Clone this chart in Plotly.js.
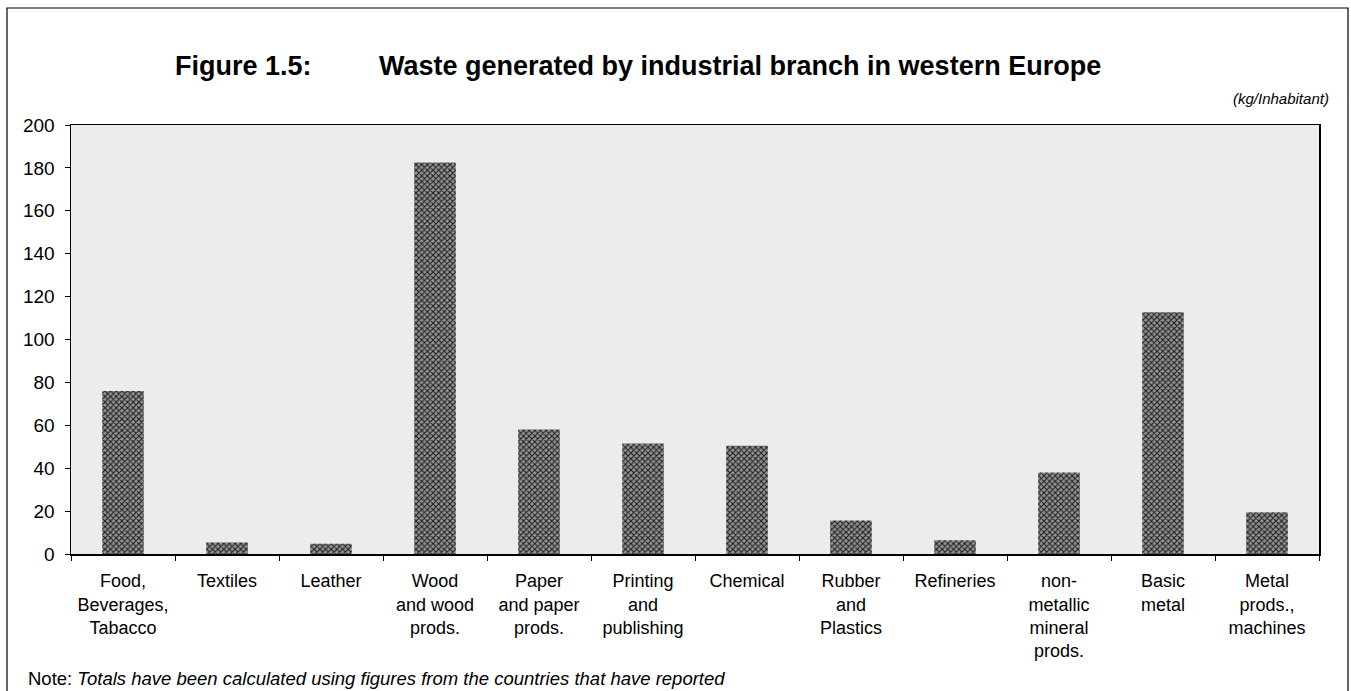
<!DOCTYPE html>
<html>
<head>
<meta charset="utf-8">
<script src="https://cdn.plot.ly/plotly-3.0.1.min.js"></script>
<style>html,body{margin:0;padding:0;background:#fff;}#chart{width:1351px;height:691px;}</style>
</head>
<body>
<div id="chart"></div>
<script>
var categories = [
  "Food,<br>Beverages,<br>Tabacco",
  "Textiles",
  "Leather",
  "Wood<br>and wood<br>prods.",
  "Paper<br>and paper<br>prods.",
  "Printing<br>and<br>publishing",
  "Chemical",
  "Rubber<br>and<br>Plastics",
  "Refineries",
  "non-<br>metallic<br>mineral<br>prods.",
  "Basic<br>metal",
  "Metal<br>prods.,<br>machines"
];
var wasteKgPerInhabitant = [76, 5.4, 4.8, 182.5, 58, 51.5, 50.5, 15.6, 6.4, 38, 112.7, 19.5];
var yTickValues = [0, 20, 40, 60, 80, 100, 120, 140, 160, 180, 200];

var FONT = "Liberation Sans, Arial, Helvetica, sans-serif";

// plot area in pixels: x 71..1319, y 125..554
var PL = 71, PR = 1319, PT = 125, PB = 554;
var PW = PR - PL, PH = PB - PT;
function px(x) { return (x - PL) / PW; }
function py(y) { return (PB - y) / PH; }

var trace = {
  type: "bar",
  x: categories,
  y: wasteKgPerInhabitant,
  width: 0.40,
  marker: {
    color: "#777",
    line: {width: 0},
    pattern: {shape: "x", fgcolor: "#1a1a1a", bgcolor: "#949494", size: 4, solidity: 0.45}
  },
  hoverinfo: "x+y"
};

var layout = {
  width: 1351,
  height: 691,
  margin: {l: PL, r: 1351 - PR, t: PT, b: 691 - PB},
  paper_bgcolor: "#ffffff",
  plot_bgcolor: "#ececec",
  showlegend: false,
  font: {family: FONT, size: 18, color: "#000"},
  xaxis: {
    type: "category",
    showline: true, linecolor: "#000", linewidth: 1.5, mirror: true,
    ticks: "outside", ticklen: 5, tickcolor: "#000", tickson: "boundaries",
    ticklabelstandoff: 10,
    showgrid: false, zeroline: false,
    tickfont: {family: FONT, size: 18, color: "#000"},
    fixedrange: true
  },
  yaxis: {
    range: [0, 200],
    tickvals: yTickValues,
    showline: true, linecolor: "#000", linewidth: 1.5, mirror: true,
    ticks: "outside", ticklen: 5, tickcolor: "#000",
    ticklabelstandoff: 6,
    showgrid: false, zeroline: false,
    tickfont: {family: FONT, size: 19, color: "#000"},
    fixedrange: true
  },
  shapes: [
    {type: "rect", xref: "paper", yref: "paper", x0: px(7), x1: px(1348), y0: py(692), y1: py(8),
     line: {color: "#000", width: 1.2}, fillcolor: "rgba(0,0,0,0)", layer: "below"}
  ],
  annotations: [
    {xref: "paper", yref: "paper", x: px(314), y: py(66), xanchor: "right", yanchor: "middle",
     text: "<b>Figure 1.5:</b>", showarrow: false, font: {family: FONT, size: 27, color: "#000"}},
    {xref: "paper", yref: "paper", x: px(377), y: py(66), xanchor: "left", yanchor: "middle",
     text: "<b>Waste generated by industrial branch in western Europe</b>", showarrow: false,
     font: {family: FONT, size: 27, color: "#000"}},
    {xref: "paper", yref: "paper", x: px(1331), y: py(98), xanchor: "right", yanchor: "middle",
     text: "<i>(kg/Inhabitant)</i>", showarrow: false, font: {family: FONT, size: 15, color: "#000"}},
    {xref: "paper", yref: "paper", x: px(26), y: py(678), xanchor: "left", yanchor: "middle",
     text: "Note: <i>Totals have been calculated using figures from the countries that have reported</i>", showarrow: false,
     font: {family: FONT, size: 18.5, color: "#000"}}
  ]
};

Plotly.newPlot("chart", [trace], layout, {displayModeBar: false, staticPlot: true});
</script>
</body>
</html>
